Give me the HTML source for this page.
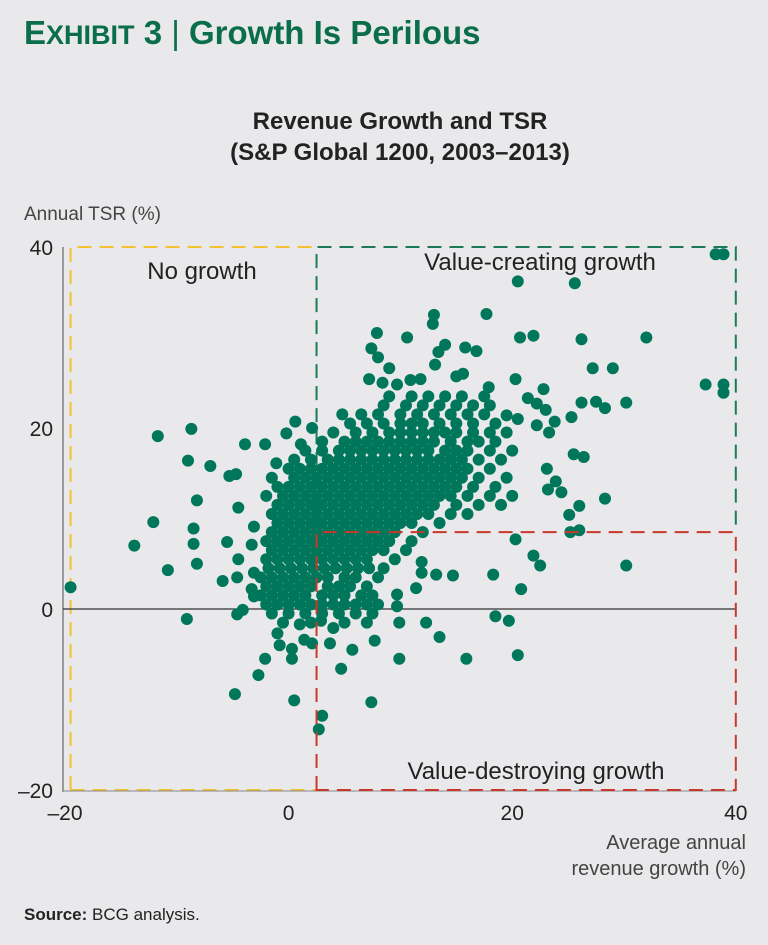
<!DOCTYPE html>
<html><head><meta charset="utf-8">
<style>
html,body{margin:0;padding:0;background:#e9e9eb;}
body{width:768px;height:945px;position:relative;overflow:hidden;font-family:"Liberation Sans",sans-serif;}
.t{position:absolute;white-space:nowrap;}
</style></head>
<body>
<div class="t" style="left:24px;top:14px;font-size:33px;font-weight:bold;color:#0b6e4a;">E<span style="font-size:27px">XHIBIT</span> 3 <span style="font-weight:normal">|</span> Growth Is Perilous</div>
<div class="t" style="left:0;width:800px;text-align:center;top:106px;font-size:24px;font-weight:bold;color:#222;line-height:31px;">Revenue Growth and TSR<br>(S&amp;P Global 1200, 2003–2013)</div>
<div class="t" style="left:24px;top:204px;font-size:19px;color:#444;">Annual TSR (%)</div>
<div class="t" style="right:22px;top:830px;font-size:20px;color:#444;text-align:right;line-height:26px;">Average annual<br>revenue growth (%)</div>
<div class="t" style="left:24px;top:905px;font-size:17px;color:#222;"><b>Source:</b> BCG analysis.</div>
<svg id="chart" width="768" height="945" style="position:absolute;left:0;top:0;"></svg>
<script>
const xTicks=[-20,0,20,40];
const yTicks=[-20,0,20,40];
const xTickLabels=["–20","0","20","40"];
const yTickLabels=["–20","0","20","40"];
const growthX=[38.2,38.9,20.5,25.6,17.7,13.0,12.9,7.9,10.6,20.7,21.9,26.2,32.0,7.4,8.0,9.0,14.0,13.4,13.1,15.8,16.8,27.2,29.0,37.3,38.9,38.9,20.3,7.2,8.4,9.7,10.9,11.8,15,15.6,17.9,22.8,21.4,22.2,23,26.2,27.5,28.3,30.2,25.3,23.8,22.2,23.3,19.5,20.5,-11.7,-8.7,-3.9,-2.1,1.1,-0.2,0.6,2.1,4.8,-9,-7,-5.3,-4.7,-1.1,25.5,26.4,23.1,23.2,23.9,24.4,28.3,26,25.1,26,25.2,-8.2,-4.5,-12.1,-13.8,-8.5,-8.5,-8.2,-10.8,-5.5,-3.1,-3.3,-4.5,-3.1,-5.9,-4.6,-3.3,-3.1,-19.5,-9.1,-4.6,-4.1,30.2,20.8,20.3,21.9,22.5,18.3,13.2,14.7,11.9,11.9,11.4,9.7,9.7,18.5,19.7,9.9,12.3,13.5,7.7,9.9,15.9,20.5,5.7,4.7,3.7,4.0,2.9,1,1.4,2.1,-1,-0.8,0.3,0.3,-2.1,-2.7,-4.8,0.5,7.4,3,2.7];
const tsrY=[39.2,39.2,36.2,36.0,32.6,32.5,31.5,30.5,30.0,30.0,30.2,29.8,30.0,28.8,27.8,26.6,29.2,28.4,27,28.9,28.5,26.6,26.6,24.8,24.8,23.9,25.4,25.4,25,24.8,25.3,25.4,25.7,26,24.5,24.3,23.3,22.7,22,22.8,22.9,22.2,22.8,21.2,20.7,20.3,19.5,21.4,21.0,19.1,19.9,18.2,18.2,18.2,19.4,20.7,20,21.5,16.4,15.8,14.7,14.9,16.1,17.1,16.8,15.5,13.2,14.1,12.9,12.2,11.4,10.4,8.7,8.5,12,11.2,9.6,7,8.9,7.2,5,4.3,7.4,9.1,7.1,5.5,4,3.1,3.5,2.2,1.4,2.4,-1.1,-0.6,-0.1,4.8,2.2,7.7,5.9,4.8,3.8,3.8,3.7,5.2,4,2.3,1.6,0.3,-0.8,-1.3,-1.5,-1.5,-3.1,-3.5,-5.5,-5.5,-5.1,-4.5,-6.6,-3.8,-2.1,-1.3,-1.7,-3.4,-3.8,-2.7,-4,-4.4,-5.5,-5.5,-7.3,-9.4,-10.1,-10.3,-11.8,-13.3];
const clusterRowsY=[-1.5,-0.5,0.5,1.5,2.5,3.5,4.5,5.5,6.5,7.5,8.5,9.5,10.5,11.5,12.5,13.5,14.5,15.5,16.5,17.5,18.5,19.5,20.5,21.5,22.5,23.5];
const clusterRowsX=[
[-0.5,2,5,7],
[-1.5,0,1.5,3,4.5,6,7.5],
[-2,-1,0,1,2,3,4,5,6,7,8],
[-2.5,-1.5,-0.5,0.5,1.5,3,4,5,6.5,7.5],
[-2,-1,0,1,2,3.5,4.5,5.5,7],
[-2.5,-1.5,-0.5,0.5,1.5,2.5,3.5,5,6,8],
[-1.8,-0.8,0.2,1.2,2.2,3.2,4.2,5.2,6.2,7.2,8.5],
[-2,-1,0,1,2,3,4,5,6,7,9.5],
[-1.5,-0.5,0.5,1.5,2.5,3.5,4.5,5.5,6.5,7.5,8.5,10.5],
[-2,-1,0,1,2,3,4,5,6,7,8,9,11],
[-1.5,-0.5,0.5,1.5,2.5,3.5,4.5,5.5,6.5,7.5,8.5,9.5,12],
[-1,0,1,2,3,4,5,6,7,8,9,10,11,13.5],
[-1.5,-0.5,0.5,1.5,2.5,3.5,4.5,5.5,6.5,7.5,8.5,9.5,10.5,11.5,12.5,14.5,16],
[-1,0,1,2,3,4,5,6,7,8,9,10,11,12,13,15,17,19],
[-2,-0.5,0.5,1.5,2.5,3.5,4.5,5.5,6.5,7.5,8.5,9.5,10.5,11.5,12.5,13.5,14.5,16,18,20],
[-1,0,1,2,3,4,5,6,7,8,9,10,11,12,13,14,15,16.5,18.5],
[-1.5,0.5,1.5,2.5,3.5,4.5,5.5,6.5,7.5,8.5,9.5,10.5,11.5,12.5,13.5,14.5,15.5,17,19.5],
[0,1,2,3,4,5,6,7,8,9,10,11,12,13,14,15,16,18],
[0.5,2,3.5,4.5,5.5,6.5,7.5,8.5,9.5,10.5,11.5,12.5,13.5,14.5,15.5,17,19],
[1.5,3,4.5,5.5,6.5,7.5,8.5,9.5,10.5,11.5,12.5,14,15,16,18,20],
[3,5,6,7,8,9,10,11,12,13,14.5,16,17,18.5],
[4,6,7.5,9,10,11,12,13,14,15,16.5,18,19.5],
[5.5,7,8.5,10,11,12,13.5,15,16.5,18.5],
[6.5,8,10,11.5,13,14.5,16,17.5],
[8.5,10.5,12,13.5,15,16.5,18],
[9,11,12.5,14,15.5,17.5]
];
const NS="http://www.w3.org/2000/svg";
const svg=document.getElementById('chart');
const xS=v=>65+(v+20)*11.18;
const yS=v=>609-v*9.05;
function mk(tag,attrs,parent){const e=document.createElementNS(NS,tag);for(const k in attrs)e.setAttribute(k,attrs[k]);(parent||svg).appendChild(e);return e;}
const dash="14 8";
let b;
b=mk('path',{d:`M${xS(-19.5)},${yS(-20)} V${yS(40)} H${xS(2.5)}`,fill:'none',stroke:'#f2c232','stroke-width':2,'stroke-dasharray':dash});

b=mk('path',{d:`M${xS(-19.5)},${yS(-20)} H${xS(2.5)}`,fill:'none',stroke:'#f2c232','stroke-width':2,'stroke-dasharray':dash});

b=mk('path',{d:`M${xS(2.5)},${yS(8.5)} V${yS(40)} H${xS(40)} V${yS(8.5)}`,fill:'none',stroke:'#1a7a55','stroke-width':2,'stroke-dasharray':dash});

let a=mk('line',{x1:63,y1:247,x2:63,y2:792,stroke:'#666','stroke-width':1.2});

a=mk('line',{x1:63,y1:791,x2:xS(40),y2:791,stroke:'#888','stroke-width':1});

a=mk('line',{x1:63,y1:yS(0),x2:xS(40),y2:yS(0),stroke:'#333','stroke-width':1.2});

const g=mk('g',{fill:'#00775a'});

clusterRowsY.forEach((yv,i)=>{clusterRowsX[i].forEach(xv=>{
 const c=mk('circle',{cx:xS(xv),cy:yS(yv),r:6},g);
 
 
});});
growthX.forEach((xv,i)=>{
 const c=mk('circle',{cx:xS(xv),cy:yS(tsrY[i]),r:6},g);
 
 
});
b=mk('path',{d:`M${xS(2.5)},${yS(-20)} V${yS(8.5)} H${xS(40)} V${yS(-20)} Z`,fill:'none',stroke:'#c8392b','stroke-width':2,'stroke-dasharray':dash});

function txt(s,x,y,anchor,size,fill,name){const t=mk('text',{x:x,y:y,'text-anchor':anchor,'font-size':size,fill:fill,'font-family':'Liberation Sans, sans-serif'});t.textContent=s;return t;}
txt('No growth',202,279,'middle',24,'#222','no-growth-label');
txt('Value-creating growth',540,270,'middle',24,'#222','value-creating-label');
txt('Value-destroying growth',536,779,'middle',24,'#222','value-destroying-label');
yTicks.forEach((v,i)=>{txt(yTickLabels[i],53,yS(v)+8,'end',21,'#222','y-tick-label');});
xTicks.forEach((v,i)=>{txt(xTickLabels[i],xS(v),820,'middle',21,'#222','x-tick-label');});
</script>
</body></html>
